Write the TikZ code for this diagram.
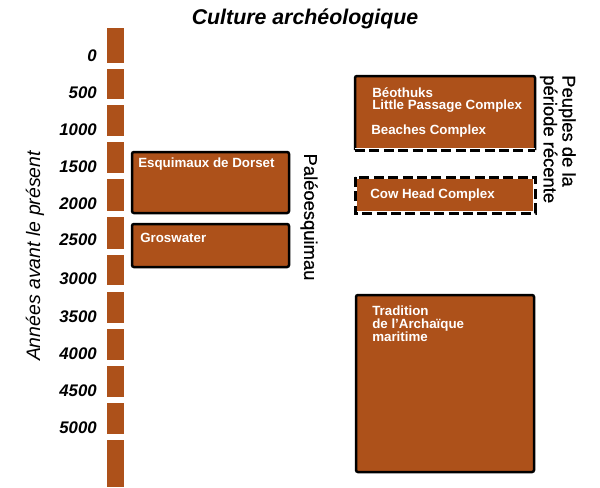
\documentclass[tikz,border=0pt]{standalone}
\usepackage{fontspec}
\setmainfont{Liberation Sans}
\begin{document}
\begin{tikzpicture}[x=0.75pt,y=-0.75pt,
  box/.style={fill=brownf, draw=black, line width=2.5pt*0.75, rounded corners=1.5pt},
  boxtxt/.style={text=white, font=\bfseries\fontsize{10}{9.4}\selectfont, anchor=north west, inner sep=0pt, align=left},
  yr/.style={font=\bfseries\itshape\fontsize{12.6}{14}\selectfont, anchor=east, inner sep=0pt},
  vlab/.style={font=\fontsize{13.8}{12.4}\selectfont\addfontfeature{FakeBold=0.6}, inner sep=0pt, align=left},
  dsh/.style={draw=black, line width=3pt*0.75, dash pattern=on 7.5pt off 3.3pt},
  wht/.style={draw=white, line width=3.5pt*0.75}
]
\definecolor{brownf}{RGB}{173,81,26}
\useasboundingbox (0,0) rectangle (600,487);
% title
\node[font=\bfseries\itshape\fontsize{16}{18}\selectfont] (title) at (305,19) {Culture archéologique};
% timeline bar
\foreach \t/\b [count=\i] in {28/63, 69/99, 105/136, 142/173, 179/211, 217/249, 255/285, 292/323, 329/360, 366/397, 403/434, 440/487}
  \fill[brownf] (107,\t) rectangle (124,\b);
% year labels
\foreach \v/\y in {0/56, 500/93, 1000/130, 1500/167, 2000/204, 2500/240, 3000/279, 3500/317, 4000/354, 4500/391, 5000/428}
  \node[yr] (y\v) at (97,\y) {\v};
% vertical axis label
\node[font=\itshape\fontsize{14.6}{16}\selectfont, rotate=90, inner sep=0pt] (axis) at (35,256) {Années avant le présent};
% Paleo boxes
\draw[box] (132,152) rectangle (289,213);
\node[boxtxt] (dorset) at (138,158) {Esquimaux de Dorset};
\draw[box] (132,224) rectangle (289,267);
\node[boxtxt] (gros) at (140,233) {Groswater};
\node[vlab, rotate=-90] (paleo) at (309,217) {Paléoesquimau};
% Recent peoples
\fill[brownf] (355,76) rectangle (535,150);
\draw[black, line width=2.5pt*0.75, rounded corners=1.5pt] (355,150) -- (355,76) -- (535,76) -- (535,150);
\draw[wht] (355,150) -- (535,150);
\draw[dsh] (355,150) -- (535,150);
\node[boxtxt] (beo) at (372,87) {Béothuks\\Little Passage Complex};
\node[boxtxt] (beach) at (371,125) {Beaches Complex};
\fill[brownf] (355,177) rectangle (535,213);
\draw[wht] (355,177) rectangle (535,213);
\draw[dsh] (355,177) rectangle (535,213);
\node[boxtxt] (cow) at (370,189) {Cow Head Complex};
\node[vlab, rotate=-90, anchor=north west] (recent) at (576,75) {Peuples de la\\période récente};
% Archaic
\draw[box] (356,295) rectangle (534,472);
\node[boxtxt] (arch) at (372,306) {Tradition\\de l’Archaïque\\maritime};
\end{tikzpicture}
\end{document}
